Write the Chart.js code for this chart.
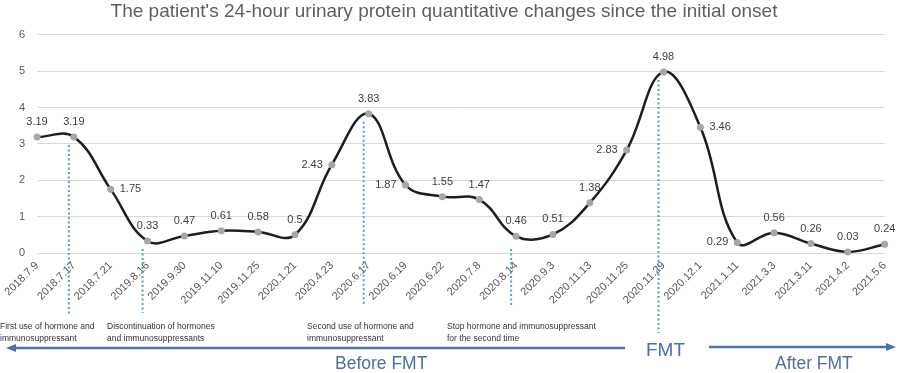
<!DOCTYPE html>
<html lang="en">
<head>
<meta charset="UTF-8">
<title>24-hour urinary protein</title>
<script src="https://cdn.jsdelivr.net/npm/chart.js"></script>
<style>
  html, body { margin: 0; padding: 0; background: #fff; }
  #wrap { width: 900px; height: 373px; position: relative; }
</style>
</head>
<body>
<div id="wrap"><canvas id="chart"></canvas></div>
<script>
// data
const dates = [
  "2018.7.9", "2018.7.17", "2018.7.21", "2019.8.16", "2019.9.30", "2019.11.10",
  "2019.11.25", "2020.1.21", "2020.4.23", "2020.6.17", "2020.6.19", "2020.6.22",
  "2020.7.8", "2020.8.14", "2020.9.3", "2020.11.13", "2020.11.25", "2020.11.29",
  "2020.12.1", "2021.1.11", "2021.3.3", "2021.3.11", "2021.4.2", "2021.5.6"
];
const protein = [
  3.19, 3.19, 1.75, 0.33, 0.47, 0.61,
  0.58, 0.5, 2.43, 3.83, 1.87, 1.55,
  1.47, 0.46, 0.51, 1.38, 2.83, 4.98,
  3.46, 0.29, 0.56, 0.26, 0.03, 0.24
];
const yTicks = [0, 1, 2, 3, 4, 5, 6];

// treatment events (index into dates) and their notes
const eventIndex = [1, 3, 9, 13, 17];
const eventNotes = [
  ["First use of hormone and", "immunosuppressant"],
  ["Discontinuation of hormones", "and immunosuppressants"],
  ["Second use of hormone and", "immunosuppressant"],
  ["Stop hormone and immunosuppressant", "for the second time"],
  []
];

const titleText = "The patient's 24-hour urinary protein quantitative changes since the initial onset";

// where each value label sits (default is above the point)
const labelSide = { 2: "right", 8: "left", 10: "left", 16: "left", 18: "right", 19: "left" };

const FONT = '"Liberation Sans", Arial, sans-serif';
const BLUE = "#4d70aa";

const extras = {
  id: "extras",
  afterDatasetsDraw(chart) {
    const ctx = chart.ctx;
    const pts = chart.getDatasetMeta(0).data;

    // value labels
    ctx.save();
    ctx.font = "11px " + FONT;
    ctx.fillStyle = "#404040";
    ctx.textBaseline = "middle";
    protein.forEach((v, i) => {
      const p = pts[i];
      const side = labelSide[i] || "top";
      if (side === "left") {
        ctx.textAlign = "right";
        ctx.fillText(String(v), p.x - 9, p.y);
      } else if (side === "right") {
        ctx.textAlign = "left";
        ctx.fillText(String(v), p.x + 9, p.y);
      } else {
        ctx.textAlign = "center";
        ctx.fillText(String(v), p.x, p.y - 15);
      }
    });
    ctx.restore();
  },
  afterDraw(chart) {
    const ctx = chart.ctx;
    const xs = chart.scales.x, ys = chart.scales.y;
    const pts = chart.getDatasetMeta(0).data;

    // dotted event lines
    const startAtPoint = [true, false, true, false, true];
    const lineEnd = [315, 313, 305, 305, 333];
    ctx.save();
    ctx.strokeStyle = "#5b9bd5";
    ctx.lineWidth = 2;
    ctx.setLineDash([2, 2.5]);
    eventIndex.forEach((idx, k) => {
      const x = xs.getPixelForValue(idx) - 5;
      const top = startAtPoint[k] ? pts[idx].y + 8 : ys.getPixelForValue(0) - 4;
      ctx.beginPath();
      ctx.moveTo(x, top);
      ctx.lineTo(x, lineEnd[k]);
      ctx.stroke();
    });
    ctx.restore();

    // event notes
    const noteX = [0, 107, 307, 447];
    ctx.save();
    ctx.font = "8.5px " + FONT;
    ctx.fillStyle = "#333";
    ctx.textAlign = "left";
    ctx.textBaseline = "alphabetic";
    eventNotes.forEach((lines, k) => {
      lines.forEach((t, j) => ctx.fillText(t, noteX[k], 329 + j * 12));
    });
    ctx.restore();

    // before / after arrows
    ctx.save();
    ctx.strokeStyle = BLUE;
    ctx.fillStyle = BLUE;
    ctx.lineWidth = 2.5;
    ctx.beginPath();
    ctx.moveTo(14, 348);
    ctx.lineTo(625, 348);
    ctx.stroke();
    ctx.beginPath();
    ctx.moveTo(6, 348);
    ctx.lineTo(16, 344);
    ctx.lineTo(16, 352);
    ctx.closePath();
    ctx.fill();
    ctx.beginPath();
    ctx.moveTo(709, 347);
    ctx.lineTo(888, 347);
    ctx.stroke();
    ctx.beginPath();
    ctx.moveTo(896, 347);
    ctx.lineTo(886, 343);
    ctx.lineTo(886, 351);
    ctx.closePath();
    ctx.fill();

    ctx.fillStyle = "#4f6fa3";
    ctx.textBaseline = "alphabetic";
    ctx.font = "19px " + FONT;
    ctx.textAlign = "center";
    ctx.fillText("FMT", xs.getPixelForValue(17) + 2, 356);
    ctx.font = "17.5px " + FONT;
    ctx.textAlign = "left";
    ctx.fillText("Before FMT", 335, 369);
    ctx.fillText("After FMT", 775, 369);
    ctx.restore();
  }
};

new Chart(document.getElementById("chart"), {
  type: "line",
  data: {
    labels: dates,
    datasets: [{
      data: protein,
      borderColor: "#1e1e1e",
      borderWidth: 2.5,
      tension: 0.4,
      pointRadius: 3.5,
      pointBackgroundColor: "#a6a6a6",
      pointBorderWidth: 0,
      clip: false
    }]
  },
  options: {
    responsive: true,
    maintainAspectRatio: false,
    animation: false,
    layout: { padding: { left: 0, right: 12, top: 0, bottom: 0 } },
    plugins: {
      legend: { display: false },
      tooltip: { enabled: false },
      title: {
        display: true,
        text: titleText,
        color: "#5f5f5f",
        font: { family: FONT, size: 19, weight: "normal" },
        padding: { top: 0, bottom: 12 }
      }
    },
    scales: {
      x: {
        offset: false,
        grid: { display: false, drawTicks: false },
        border: { display: false },
        ticks: {
          autoSkip: false,
          minRotation: 45,
          maxRotation: 45,
          color: "#595959",
          font: { family: FONT, size: 11 },
          padding: 6
        },
        afterFit(s) { s.height = 120; }
      },
      y: {
        min: yTicks[0],
        max: yTicks[yTicks.length - 1],
        grid: { color: "#d9d9d9", drawTicks: false },
        border: { display: false },
        ticks: {
          stepSize: 1,
          color: "#595959",
          font: { family: FONT, size: 11 },
          padding: 12
        },
        afterFit(s) { s.width = 37; }
      }
    }
  },
  plugins: [extras]
});
</script>
</body>
</html>
